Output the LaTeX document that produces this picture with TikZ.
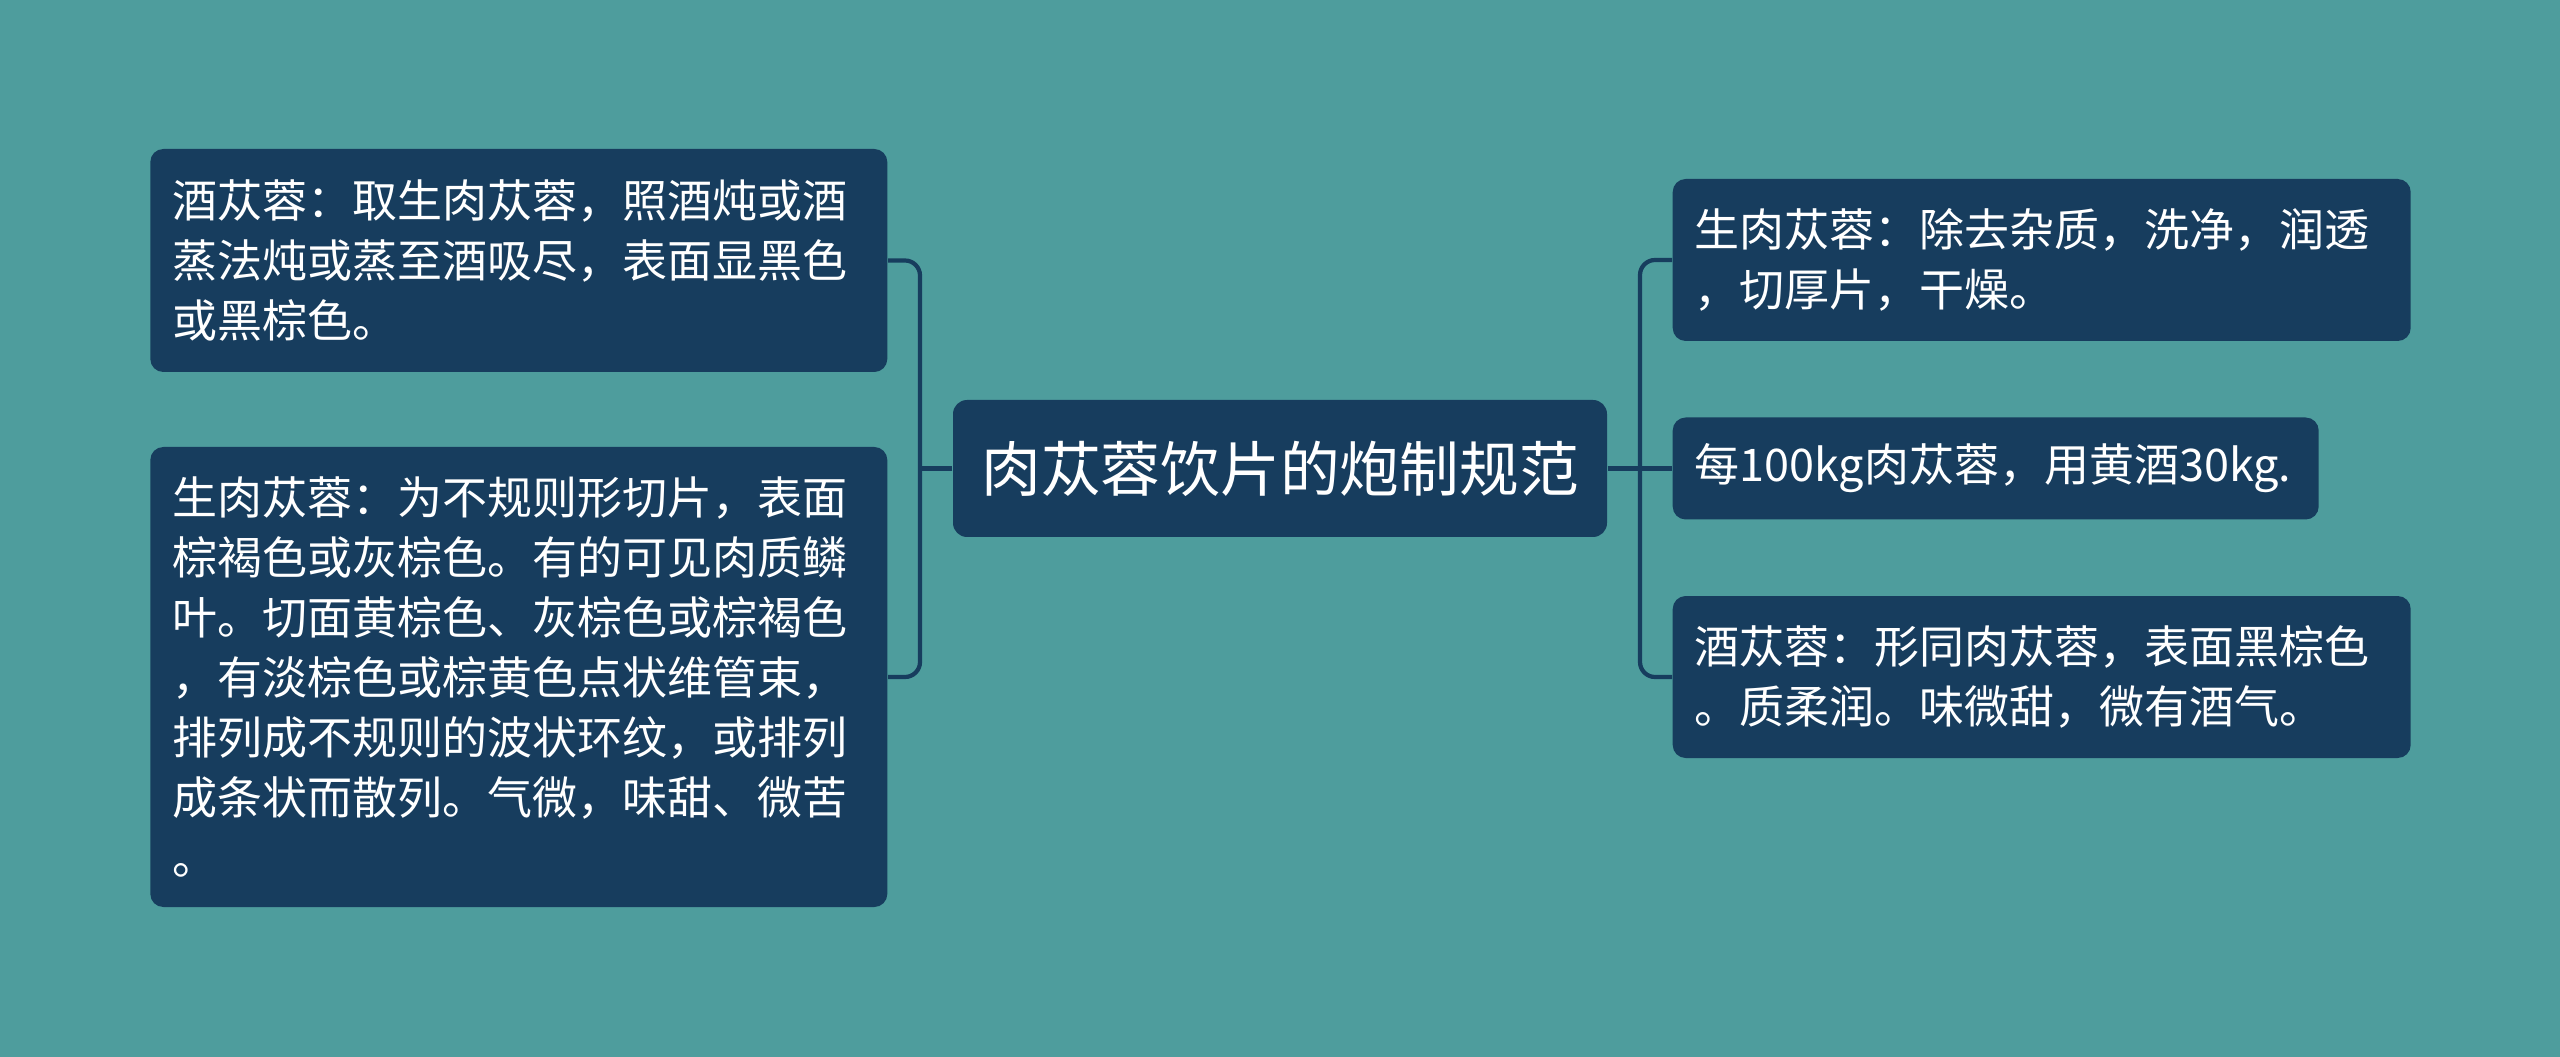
\documentclass[tikz,border=0pt]{standalone}
\usepackage{fontspec}
\usepackage{xcolor}
\usepackage{tikz}
\newfontfamily\cjk{Noto Sans CJK SC}
\definecolor{bgTeal}{HTML}{4E9D9D}
\definecolor{boxNavy}{HTML}{173D5E}

\begin{document}
\begin{tikzpicture}[
    root/.style={fill=boxNavy, text=white, rounded corners=0.14cm,
        minimum width=6.54cm, minimum height=1.37cm, inner sep=0pt,
        font=\cjk\fontsize{17}{20}\selectfont},
    leaf/.style={fill=boxNavy, text=white, rounded corners=0.13cm,
        align=left, inner xsep=0.22cm, inner ysep=0pt,
        font=\cjk\fontsize{12.8}{17.1}\selectfont},
    link/.style={draw=boxNavy, line width=1.2pt, rounded corners=0.15cm}]
    \fill[bgTeal] (0,0) rectangle (25.6,-10.57);
    \useasboundingbox (0,0) rectangle (25.6,-10.57);
    % centre
    \node[root] (root) at (12.80,-4.685) {肉苁蓉饮片的炮制规范};
    % left side
    \node[leaf, anchor=east, text width=6.93cm, minimum height=2.23cm] (lt) at (8.88,-2.605)
        {酒苁蓉：取生肉苁蓉，照酒炖或酒\\蒸法炖或蒸至酒吸尽，表面显黑色\\或黑棕色。};
    \node[leaf, anchor=east, text width=6.93cm, minimum height=4.60cm] (lb) at (8.88,-6.77)
        {生肉苁蓉：为不规则形切片，表面\\棕褐色或灰棕色。有的可见肉质鳞\\叶。切面黄棕色、灰棕色或棕褐色\\，有淡棕色或棕黄色点状维管束，\\排列成不规则的波状环纹，或排列\\成条状而散列。气微，味甜、微苦\\。};
    % right side
    \node[leaf, anchor=west, text width=6.94cm, minimum height=1.62cm] (rt) at (16.72,-2.60)
        {生肉苁蓉：除去杂质，洗净，润透\\，切厚片，干燥。};
    \node[leaf, anchor=west, text width=6.02cm, minimum height=1.02cm] (rm) at (16.72,-4.685)
        {每100kg肉苁蓉，用黄酒30kg.};
    \node[leaf, anchor=west, text width=6.94cm, minimum height=1.62cm] (rb) at (16.72,-6.77)
        {酒苁蓉：形同肉苁蓉，表面黑棕色\\。质柔润。味微甜，微有酒气。};
    % connectors
    \coordinate (lj) at (9.20,-4.685);
    \coordinate (rj) at (16.40,-4.685);
    \draw[link] (lt.east) -| (lj) |- (lb.east);
    \draw[link] (root.west) -- (lj);
    \draw[link] (rt.west) -| (rj) |- (rb.west);
    \draw[link] (root.east) -- (rj) -- (rm.west);
\end{tikzpicture}
\end{document}
